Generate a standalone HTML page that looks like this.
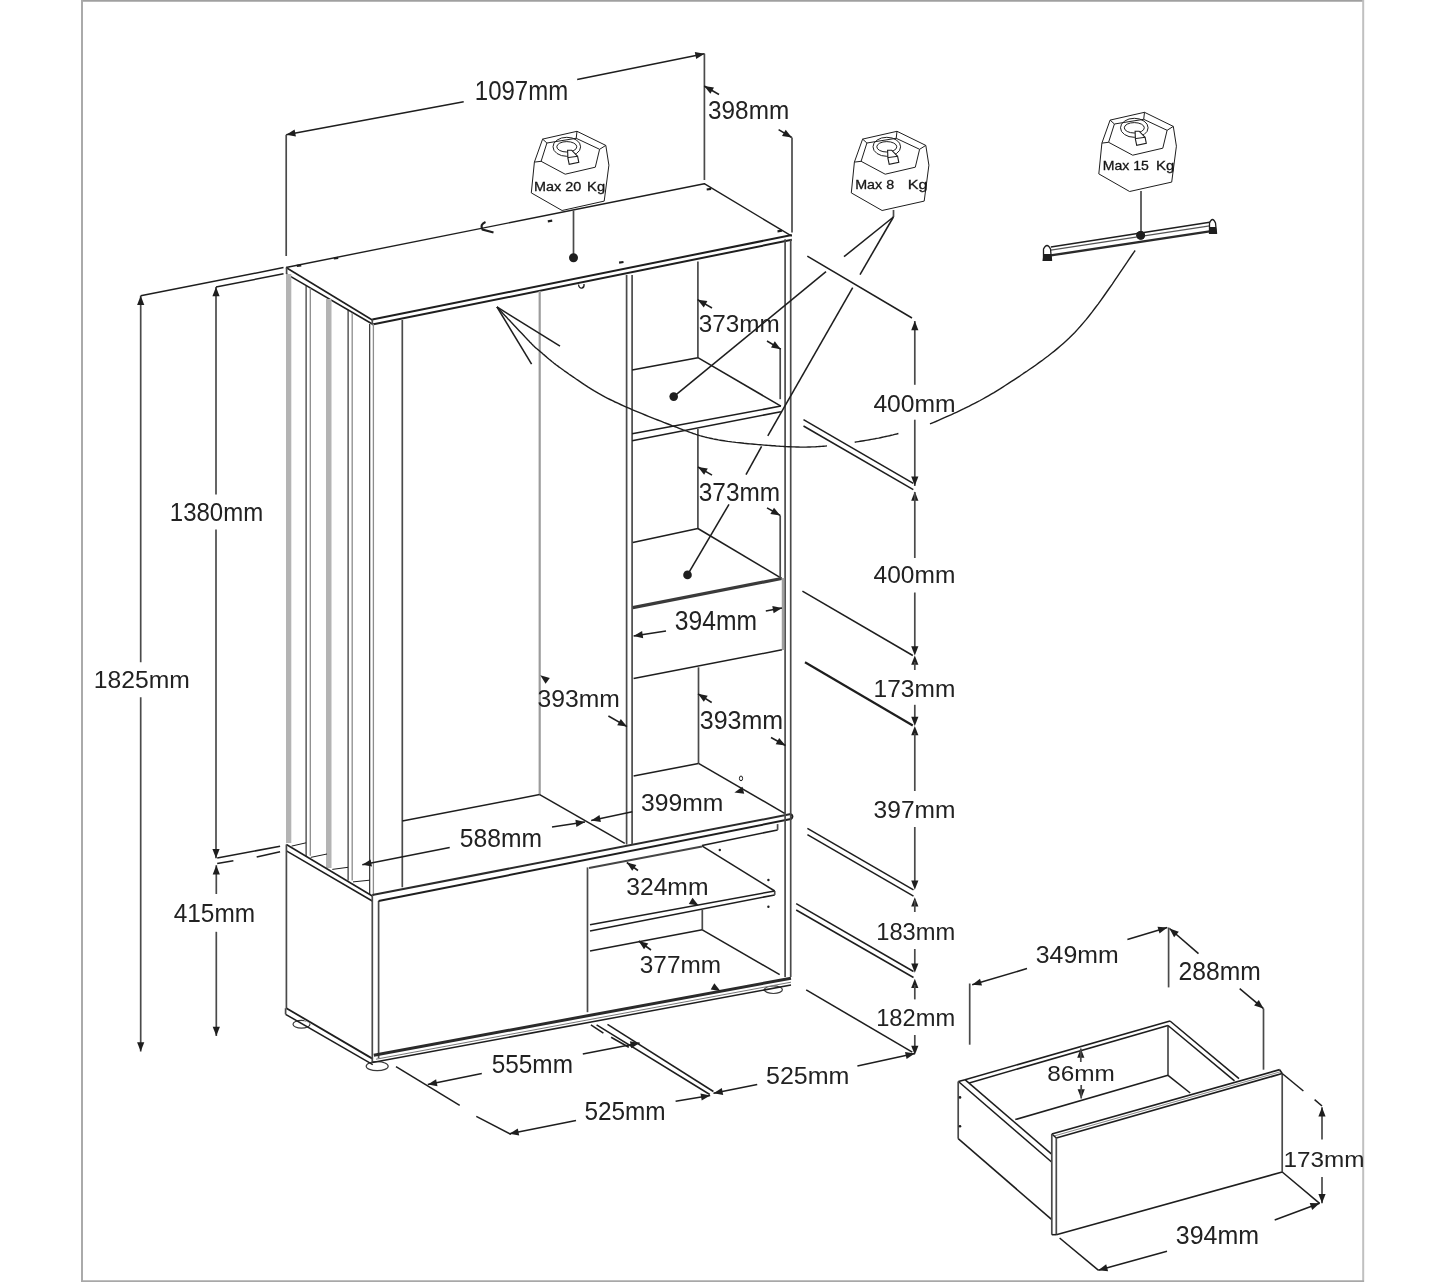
<!DOCTYPE html>
<html><head><meta charset="utf-8"><style>
html,body{margin:0;padding:0;background:#fff;}
svg{display:block;font-family:"Liberation Sans", sans-serif;}
body{filter:grayscale(1);}
</style></head><body>
<svg width="1445" height="1282" viewBox="0 0 1445 1282">
<rect width="1445" height="1282" fill="#fff"/>
<line x1="81" y1="0.9" x2="1364" y2="0.9" stroke="#a0a0a0" stroke-width="1.9"/>
<line x1="82" y1="0" x2="82" y2="1282" stroke="#aaaaaa" stroke-width="2"/>
<line x1="1363.2" y1="0" x2="1363.2" y2="1282" stroke="#c0c0c0" stroke-width="2"/>
<line x1="81" y1="1281.2" x2="1364" y2="1281.2" stroke="#a8a8a8" stroke-width="1.8"/>
<line x1="286.2" y1="134.8" x2="463.7" y2="101.8" stroke="#1e1e1e" stroke-width="1.55" />
<line x1="577.2" y1="79.4" x2="704.5" y2="53.7" stroke="#1e1e1e" stroke-width="1.55" />
<path d="M286.2,134.8 L294.6,129.6 L295.9,136.6Z" fill="#1e1e1e"/>
<path d="M704.5,53.7 L696.2,59.0 L694.8,52.0Z" fill="#1e1e1e"/>
<text transform="translate(474.80,99.73) scale(0.897,1)" font-size="26.76" fill="#222" font-weight="normal" >1097mm</text>
<line x1="286.2" y1="134.8" x2="286.2" y2="256.0" stroke="#4a4a4a" stroke-width="1.7" />
<line x1="704.4" y1="53.7" x2="704.4" y2="180.0" stroke="#4a4a4a" stroke-width="1.7" />
<line x1="704.2" y1="86.0" x2="719.0" y2="94.5" stroke="#1e1e1e" stroke-width="1.55" />
<line x1="778.6" y1="129.7" x2="791.8" y2="137.5" stroke="#1e1e1e" stroke-width="1.55" />
<path d="M704.2,86.0 L714.0,87.5 L710.4,93.7Z" fill="#1e1e1e"/>
<path d="M791.8,137.5 L782.0,135.9 L785.7,129.7Z" fill="#1e1e1e"/>
<text transform="translate(708.10,119.45) scale(0.975,1)" font-size="24.93" fill="#222" font-weight="normal" >398mm</text>
<line x1="792.0" y1="137.5" x2="792.0" y2="232.4" stroke="#4a4a4a" stroke-width="1.7" />
<line x1="140.7" y1="295.8" x2="140.7" y2="662.3" stroke="#4a4a4a" stroke-width="1.7" />
<line x1="140.7" y1="697.3" x2="140.7" y2="1051.4" stroke="#4a4a4a" stroke-width="1.7" />
<path d="M140.7,295.8 L144.3,305.0 L137.1,305.0Z" fill="#1e1e1e"/>
<path d="M140.7,1051.4 L137.1,1042.2 L144.3,1042.2Z" fill="#1e1e1e"/>
<line x1="140.7" y1="295.8" x2="283.5" y2="267.6" stroke="#1e1e1e" stroke-width="1.55" />
<text transform="translate(93.80,688.35) scale(0.996,1)" font-size="24.79" fill="#222" font-weight="normal" >1825mm</text>
<line x1="216.0" y1="287.0" x2="216.0" y2="494.6" stroke="#4a4a4a" stroke-width="1.7" />
<line x1="216.0" y1="529.6" x2="216.0" y2="858.3" stroke="#4a4a4a" stroke-width="1.7" />
<path d="M216.0,287.0 L219.6,296.2 L212.4,296.2Z" fill="#1e1e1e"/>
<path d="M216.0,858.3 L212.4,849.1 L219.6,849.1Z" fill="#1e1e1e"/>
<line x1="216.0" y1="287.0" x2="283.5" y2="273.8" stroke="#1e1e1e" stroke-width="1.55" />
<text transform="translate(169.80,520.75) scale(0.947,1)" font-size="25.35" fill="#222" font-weight="normal" >1380mm</text>
<line x1="216.3" y1="865.2" x2="216.3" y2="894.0" stroke="#4a4a4a" stroke-width="1.7" />
<line x1="216.3" y1="931.8" x2="216.3" y2="1036.0" stroke="#4a4a4a" stroke-width="1.7" />
<path d="M216.3,865.2 L219.9,874.4 L212.7,874.4Z" fill="#1e1e1e"/>
<path d="M216.3,1036.0 L212.7,1026.8 L219.9,1026.8Z" fill="#1e1e1e"/>
<text transform="translate(173.70,921.64) scale(0.950,1)" font-size="25.71" fill="#222" font-weight="normal" >415mm</text>
<line x1="217.2" y1="858.0" x2="280.1" y2="846.3" stroke="#1e1e1e" stroke-width="1.55" />
<line x1="217.2" y1="863.4" x2="233.4" y2="860.7" stroke="#1e1e1e" stroke-width="1.55" />
<line x1="256.7" y1="857.1" x2="280.1" y2="851.7" stroke="#1e1e1e" stroke-width="1.55" />
<line x1="914.8" y1="321.0" x2="914.8" y2="384.8" stroke="#4a4a4a" stroke-width="1.7" />
<line x1="914.8" y1="419.7" x2="914.8" y2="486.0" stroke="#4a4a4a" stroke-width="1.7" />
<path d="M914.8,321.0 L918.4,330.2 L911.2,330.2Z" fill="#1e1e1e"/>
<path d="M914.8,485.8 L911.2,476.6 L918.4,476.6Z" fill="#1e1e1e"/>
<path d="M914.8,491.6 L918.4,500.8 L911.2,500.8Z" fill="#1e1e1e"/>
<text transform="translate(873.40,411.95) scale(1.007,1)" font-size="24.51" fill="#222" font-weight="normal" >400mm</text>
<line x1="807.3" y1="256.2" x2="912.0" y2="318.0" stroke="#1e1e1e" stroke-width="1.55" />
<line x1="803.5" y1="419.7" x2="913.3" y2="483.4" stroke="#1e1e1e" stroke-width="1.55" />
<line x1="803.5" y1="426.0" x2="913.3" y2="489.6" stroke="#1e1e1e" stroke-width="1.55" />
<line x1="914.8" y1="492.0" x2="914.8" y2="558.0" stroke="#4a4a4a" stroke-width="1.7" />
<line x1="914.8" y1="592.5" x2="914.8" y2="650.0" stroke="#4a4a4a" stroke-width="1.7" />
<path d="M914.8,655.5 L911.2,646.3 L918.4,646.3Z" fill="#1e1e1e"/>
<path d="M914.8,655.5 L918.4,664.7 L911.2,664.7Z" fill="#1e1e1e"/>
<text transform="translate(873.60,583.45) scale(0.995,1)" font-size="24.65" fill="#222" font-weight="normal" >400mm</text>
<line x1="802.4" y1="591.2" x2="912.8" y2="655.5" stroke="#1e1e1e" stroke-width="1.55" />
<line x1="914.8" y1="662.0" x2="914.8" y2="670.0" stroke="#4a4a4a" stroke-width="1.7" />
<line x1="914.8" y1="704.8" x2="914.8" y2="720.0" stroke="#4a4a4a" stroke-width="1.7" />
<path d="M914.8,726.0 L911.2,716.8 L918.4,716.8Z" fill="#1e1e1e"/>
<path d="M914.8,726.0 L918.4,735.2 L911.2,735.2Z" fill="#1e1e1e"/>
<text transform="translate(873.60,696.56) scale(1.024,1)" font-size="23.94" fill="#222" font-weight="normal" >173mm</text>
<line x1="805.0" y1="662.3" x2="912.8" y2="725.5" stroke="#1e1e1e" stroke-width="2.2" />
<line x1="914.8" y1="733.0" x2="914.8" y2="791.0" stroke="#4a4a4a" stroke-width="1.7" />
<line x1="914.8" y1="827.0" x2="914.8" y2="885.0" stroke="#4a4a4a" stroke-width="1.7" />
<path d="M914.8,889.8 L911.2,880.6 L918.4,880.6Z" fill="#1e1e1e"/>
<path d="M914.8,897.2 L918.4,906.4 L911.2,906.4Z" fill="#1e1e1e"/>
<text transform="translate(873.60,818.15) scale(1.001,1)" font-size="24.51" fill="#222" font-weight="normal" >397mm</text>
<line x1="807.4" y1="828.4" x2="913.5" y2="889.8" stroke="#1e1e1e" stroke-width="1.55" />
<line x1="807.4" y1="834.6" x2="913.5" y2="896.2" stroke="#1e1e1e" stroke-width="1.55" />
<line x1="914.8" y1="900.0" x2="914.8" y2="912.0" stroke="#4a4a4a" stroke-width="1.7" />
<line x1="914.8" y1="949.0" x2="914.8" y2="968.0" stroke="#4a4a4a" stroke-width="1.7" />
<path d="M914.8,972.8 L911.2,963.6 L918.4,963.6Z" fill="#1e1e1e"/>
<path d="M914.8,978.7 L918.4,987.9 L911.2,987.9Z" fill="#1e1e1e"/>
<text transform="translate(876.20,939.75) scale(0.956,1)" font-size="24.79" fill="#222" font-weight="normal" >183mm</text>
<line x1="796.2" y1="903.7" x2="913.5" y2="971.5" stroke="#1e1e1e" stroke-width="1.55" />
<line x1="796.2" y1="910.0" x2="913.5" y2="977.5" stroke="#1e1e1e" stroke-width="1.55" />
<line x1="914.8" y1="985.0" x2="914.8" y2="999.4" stroke="#4a4a4a" stroke-width="1.7" />
<line x1="914.8" y1="1035.0" x2="914.8" y2="1050.0" stroke="#4a4a4a" stroke-width="1.7" />
<path d="M914.8,1055.0 L911.2,1045.8 L918.4,1045.8Z" fill="#1e1e1e"/>
<text transform="translate(876.20,1025.75) scale(0.961,1)" font-size="24.65" fill="#222" font-weight="normal" >182mm</text>
<line x1="806.2" y1="989.8" x2="912.3" y2="1052.2" stroke="#1e1e1e" stroke-width="1.55" />
<line x1="857.4" y1="1066.0" x2="914.8" y2="1053.4" stroke="#1e1e1e" stroke-width="1.55" />
<path d="M914.8,1053.4 L906.6,1058.9 L905.0,1051.9Z" fill="#1e1e1e"/>
<line x1="757.2" y1="1084.6" x2="713.5" y2="1093.3" stroke="#1e1e1e" stroke-width="1.55" />
<path d="M713.5,1093.3 L721.8,1088.0 L723.2,1095.0Z" fill="#1e1e1e"/>
<text transform="translate(766.00,1084.35) scale(1.010,1)" font-size="24.79" fill="#222" font-weight="normal" >525mm</text>
<line x1="675.6" y1="1101.2" x2="710.2" y2="1095.6" stroke="#1e1e1e" stroke-width="1.55" />
<path d="M710.2,1095.6 L701.7,1100.6 L700.5,1093.5Z" fill="#1e1e1e"/>
<line x1="576.0" y1="1120.6" x2="509.5" y2="1133.8" stroke="#1e1e1e" stroke-width="1.55" />
<path d="M509.5,1133.8 L517.8,1128.5 L519.2,1135.5Z" fill="#1e1e1e"/>
<text transform="translate(584.40,1120.35) scale(0.962,1)" font-size="25.35" fill="#222" font-weight="normal" >525mm</text>
<line x1="396.0" y1="1066.6" x2="459.7" y2="1105.3" stroke="#1e1e1e" stroke-width="1.55" />
<line x1="476.3" y1="1116.4" x2="510.9" y2="1134.4" stroke="#1e1e1e" stroke-width="1.55" />
<line x1="596.6" y1="1024.9" x2="709.8" y2="1094.5" stroke="#1e1e1e" stroke-width="1.55" />
<line x1="607.5" y1="1024.3" x2="713.4" y2="1091.5" stroke="#1e1e1e" stroke-width="1.55" />
<line x1="590.9" y1="1024.9" x2="603.4" y2="1033.2" stroke="#1e1e1e" stroke-width="1.55" />
<line x1="611.1" y1="1037.3" x2="628.8" y2="1047.2" stroke="#1e1e1e" stroke-width="1.55" />
<line x1="427.8" y1="1084.6" x2="481.8" y2="1073.5" stroke="#1e1e1e" stroke-width="1.55" />
<path d="M427.8,1084.6 L436.1,1079.2 L437.5,1086.3Z" fill="#1e1e1e"/>
<line x1="582.8" y1="1054.1" x2="639.6" y2="1043.0" stroke="#1e1e1e" stroke-width="1.55" />
<path d="M639.6,1043.0 L631.3,1048.3 L629.9,1041.2Z" fill="#1e1e1e"/>
<text transform="translate(491.70,1073.24) scale(0.948,1)" font-size="25.71" fill="#222" font-weight="normal" >555mm</text>
<path d="M286.0,267.5 L704.3,183.7 L791.8,236.2" stroke="#1e1e1e" stroke-width="1.4" fill="none" stroke-linejoin="round"/>
<line x1="286.0" y1="267.5" x2="372.3" y2="320.0" stroke="#1e1e1e" stroke-width="1.55" />
<line x1="372.3" y1="319.6" x2="791.8" y2="235.0" stroke="#1e1e1e" stroke-width="2.0" />
<line x1="372.3" y1="324.6" x2="791.8" y2="239.8" stroke="#1e1e1e" stroke-width="2.0" />
<line x1="286.6" y1="274.1" x2="372.3" y2="324.0" stroke="#1e1e1e" stroke-width="1.55" />
<line x1="372.3" y1="320.0" x2="372.3" y2="324.0" stroke="#4a4a4a" stroke-width="1.7" />
<rect x="286" y="274" width="5.3" height="569" fill="#b4b4b4"/>
<rect x="326" y="299" width="5.5" height="569" fill="#b4b4b4"/>
<line x1="306.1" y1="285.7" x2="306.1" y2="856.5" stroke="#1e1e1e" stroke-width="1.1" />
<line x1="310.3" y1="288.2" x2="310.3" y2="855.7" stroke="#8c8c8c" stroke-width="1.3" />
<line x1="348.1" y1="309.8" x2="348.1" y2="880.6" stroke="#1e1e1e" stroke-width="1.1" />
<line x1="352.2" y1="313.0" x2="352.2" y2="880.6" stroke="#8c8c8c" stroke-width="1.3" />
<line x1="369.7" y1="324.0" x2="369.7" y2="894.0" stroke="#1e1e1e" stroke-width="1.1" />
<line x1="373.4" y1="324.0" x2="373.4" y2="896.0" stroke="#8c8c8c" stroke-width="1.3" />
<line x1="291.6" y1="846.1" x2="306.1" y2="842.8" stroke="#1e1e1e" stroke-width="1.0" />
<line x1="310.7" y1="857.4" x2="327.0" y2="854.0" stroke="#1e1e1e" stroke-width="1.0" />
<line x1="332.3" y1="869.4" x2="348.0" y2="867.3" stroke="#1e1e1e" stroke-width="1.0" />
<line x1="353.0" y1="881.9" x2="369.7" y2="880.2" stroke="#1e1e1e" stroke-width="1.0" />
<line x1="286.6" y1="267.5" x2="286.6" y2="274.1" stroke="#4a4a4a" stroke-width="1.7" />
<ellipse cx="301.5" cy="1024.2" rx="8.5" ry="3.9" fill="#fff" stroke="#3a3a3a" stroke-width="1.2"/>
<ellipse cx="377.2" cy="1066.2" rx="11" ry="4.5" fill="#fff" stroke="#3a3a3a" stroke-width="1.2"/>
<ellipse cx="773.4" cy="989.7" rx="9" ry="3.8" fill="#fff" stroke="#3a3a3a" stroke-width="1.2"/>
<path d="M286.4,1010 L372.3,1060 L791,982 L791,960 L372.3,1040 L286.4,990Z" fill="#fff"/>
<line x1="286.4" y1="844.5" x2="372.3" y2="896.0" stroke="#1e1e1e" stroke-width="1.55" />
<line x1="286.4" y1="850.8" x2="372.3" y2="901.0" stroke="#1e1e1e" stroke-width="1.55" />
<line x1="286.4" y1="844.5" x2="286.4" y2="1008.2" stroke="#4a4a4a" stroke-width="1.7" />
<line x1="286.4" y1="1008.2" x2="372.8" y2="1058.9" stroke="#1e1e1e" stroke-width="1.8" />
<line x1="285.6" y1="1014.3" x2="372.8" y2="1064.6" stroke="#1e1e1e" stroke-width="1.55" />
<line x1="285.6" y1="1008.2" x2="285.6" y2="1014.3" stroke="#4a4a4a" stroke-width="1.7" />
<line x1="372.3" y1="896.0" x2="372.3" y2="1062.5" stroke="#4a4a4a" stroke-width="1.7" />
<line x1="378.6" y1="901.0" x2="378.6" y2="1058.3" stroke="#4a4a4a" stroke-width="1.7" />
<line x1="372.3" y1="895.0" x2="790.9" y2="814.1" stroke="#2a2a2a" stroke-width="2.0" />
<line x1="378.6" y1="901.0" x2="790.9" y2="819.1" stroke="#1e1e1e" stroke-width="2.0" />
<path d="M790.9,814.1 Q794,816.6 790.9,819.1" stroke="#1c1c1c" stroke-width="2" fill="none"/>
<line x1="373.8" y1="1055.2" x2="791.0" y2="978.2" stroke="#2a2a2a" stroke-width="3.0" />
<line x1="376.0" y1="1059.2" x2="791.0" y2="982.2" stroke="#777" stroke-width="1.0" />
<line x1="372.3" y1="1062.5" x2="791.0" y2="985.0" stroke="#1e1e1e" stroke-width="1.5" />
<line x1="402.3" y1="320.0" x2="402.3" y2="887.3" stroke="#4a4a4a" stroke-width="1.7" />
<line x1="539.7" y1="291.0" x2="539.7" y2="794.6" stroke="#9c9c9c" stroke-width="2.2" />
<line x1="402.3" y1="821.0" x2="539.7" y2="794.6" stroke="#1e1e1e" stroke-width="1.55" />
<line x1="539.7" y1="794.6" x2="624.8" y2="843.3" stroke="#1e1e1e" stroke-width="1.55" />
<line x1="626.6" y1="275.0" x2="626.6" y2="844.5" stroke="#4a4a4a" stroke-width="1.7" />
<line x1="632.1" y1="275.0" x2="632.1" y2="844.5" stroke="#4a4a4a" stroke-width="1.7" />
<line x1="785.1" y1="239.3" x2="785.1" y2="977.0" stroke="#4a4a4a" stroke-width="1.7" />
<line x1="790.7" y1="239.3" x2="790.7" y2="977.0" stroke="#4a4a4a" stroke-width="1.7" />
<line x1="697.9" y1="261.4" x2="697.9" y2="357.7" stroke="#4a4a4a" stroke-width="1.7" />
<line x1="697.9" y1="429.0" x2="697.9" y2="528.5" stroke="#4a4a4a" stroke-width="1.7" />
<line x1="698.5" y1="667.3" x2="698.5" y2="763.4" stroke="#4a4a4a" stroke-width="1.7" />
<line x1="632.1" y1="370.1" x2="697.9" y2="357.7" stroke="#1e1e1e" stroke-width="1.55" />
<line x1="697.9" y1="357.7" x2="780.9" y2="406.1" stroke="#1e1e1e" stroke-width="1.55" />
<line x1="632.1" y1="433.8" x2="780.9" y2="406.1" stroke="#1e1e1e" stroke-width="1.55" />
<line x1="632.1" y1="440.7" x2="780.9" y2="411.7" stroke="#1e1e1e" stroke-width="1.55" />
<line x1="780.2" y1="348.0" x2="780.2" y2="399.2" stroke="#4a4a4a" stroke-width="1.7" />
<line x1="632.8" y1="542.4" x2="697.9" y2="528.5" stroke="#1e1e1e" stroke-width="1.55" />
<line x1="697.9" y1="528.5" x2="781.6" y2="578.3" stroke="#1e1e1e" stroke-width="1.55" />
<line x1="632.8" y1="607.6" x2="781.6" y2="578.5" stroke="#3a3a3a" stroke-width="3.2" />
<line x1="780.2" y1="515.4" x2="780.2" y2="578.3" stroke="#4a4a4a" stroke-width="1.7" />
<line x1="633.6" y1="678.5" x2="782.0" y2="649.8" stroke="#1e1e1e" stroke-width="1.55" />
<line x1="783.0" y1="578.0" x2="783.0" y2="650.0" stroke="#a0a0a0" stroke-width="2.5" />
<line x1="633.6" y1="776.0" x2="698.5" y2="763.4" stroke="#1e1e1e" stroke-width="1.55" />
<line x1="698.5" y1="763.4" x2="784.6" y2="813.3" stroke="#1e1e1e" stroke-width="1.55" />
<ellipse cx="741" cy="778.4" rx="1.6" ry="2.4" fill="none" stroke="#1e1e1e" stroke-width="1"/>
<line x1="589.0" y1="868.1" x2="702.0" y2="846.5" stroke="#444" stroke-width="2.0" />
<line x1="702.0" y1="845.5" x2="777.6" y2="829.9" stroke="#1e1e1e" stroke-width="1.55" />
<line x1="777.6" y1="824.1" x2="777.6" y2="829.9" stroke="#4a4a4a" stroke-width="1.7" />
<line x1="587.5" y1="867.4" x2="587.5" y2="1012.2" stroke="#4a4a4a" stroke-width="1.7" />
<line x1="590.0" y1="924.8" x2="774.7" y2="891.0" stroke="#1e1e1e" stroke-width="1.55" />
<line x1="590.0" y1="931.0" x2="774.7" y2="894.9" stroke="#1e1e1e" stroke-width="1.55" />
<line x1="774.7" y1="891.0" x2="774.7" y2="894.9" stroke="#4a4a4a" stroke-width="1.7" />
<line x1="702.3" y1="846.2" x2="774.7" y2="891.0" stroke="#1e1e1e" stroke-width="1.55" />
<line x1="702.3" y1="909.8" x2="702.3" y2="929.8" stroke="#4a4a4a" stroke-width="1.7" />
<line x1="590.0" y1="951.0" x2="702.3" y2="929.8" stroke="#1e1e1e" stroke-width="1.55" />
<line x1="702.3" y1="929.8" x2="779.7" y2="974.7" stroke="#1e1e1e" stroke-width="1.55" />
<circle cx="719.8" cy="850" r="1.2" fill="#1e1e1e"/>
<circle cx="768.4" cy="880" r="1.2" fill="#1e1e1e"/>
<circle cx="768.4" cy="906.8" r="1.2" fill="#1e1e1e"/>
<path d="M697.6,299.7 L707.4,301.1 L703.8,307.4Z" fill="#1e1e1e"/>
<line x1="697.6" y1="299.7" x2="712.0" y2="308.0" stroke="#1e1e1e" stroke-width="1.55" />
<path d="M780.7,349.2 L771.0,347.4 L774.8,341.3Z" fill="#1e1e1e"/>
<line x1="780.7" y1="349.2" x2="767.0" y2="341.0" stroke="#1e1e1e" stroke-width="1.55" />
<text transform="translate(698.80,332.15) scale(0.990,1)" font-size="24.51" fill="#222" font-weight="normal" >373mm</text>
<path d="M698.0,467.0 L707.8,468.5 L704.1,474.7Z" fill="#1e1e1e"/>
<line x1="698.0" y1="467.0" x2="712.0" y2="475.2" stroke="#1e1e1e" stroke-width="1.55" />
<path d="M780.2,515.4 L770.4,514.0 L774.0,507.7Z" fill="#1e1e1e"/>
<line x1="780.2" y1="515.4" x2="767.0" y2="507.8" stroke="#1e1e1e" stroke-width="1.55" />
<text transform="translate(698.80,500.54) scale(0.926,1)" font-size="26.34" fill="#222" font-weight="normal" >373mm</text>
<line x1="633.6" y1="636.0" x2="666.0" y2="631.0" stroke="#1e1e1e" stroke-width="1.55" />
<path d="M633.6,636.0 L642.1,631.0 L643.2,638.2Z" fill="#1e1e1e"/>
<line x1="765.8" y1="611.0" x2="782.0" y2="608.0" stroke="#1e1e1e" stroke-width="1.55" />
<path d="M782.0,608.0 L773.6,613.2 L772.3,606.1Z" fill="#1e1e1e"/>
<text transform="translate(674.80,629.73) scale(0.922,1)" font-size="26.76" fill="#222" font-weight="normal" >394mm</text>
<path d="M540.3,675.3 L549.8,677.9 L545.6,683.7Z" fill="#1e1e1e"/>
<text transform="translate(537.50,706.95) scale(1.007,1)" font-size="24.51" fill="#222" font-weight="normal" >393mm</text>
<line x1="608.4" y1="716.0" x2="627.0" y2="726.6" stroke="#1e1e1e" stroke-width="1.55" />
<path d="M627.0,726.6 L617.2,725.2 L620.8,718.9Z" fill="#1e1e1e"/>
<path d="M698.0,693.8 L707.7,695.7 L703.8,701.8Z" fill="#1e1e1e"/>
<line x1="698.0" y1="693.8" x2="711.7" y2="702.5" stroke="#1e1e1e" stroke-width="1.55" />
<text transform="translate(699.80,729.45) scale(1.003,1)" font-size="24.93" fill="#222" font-weight="normal" >393mm</text>
<line x1="771.0" y1="737.5" x2="785.5" y2="745.5" stroke="#1e1e1e" stroke-width="1.55" />
<path d="M785.5,745.5 L775.7,744.2 L779.2,737.9Z" fill="#1e1e1e"/>
<line x1="591.2" y1="820.4" x2="632.3" y2="811.7" stroke="#1e1e1e" stroke-width="1.55" />
<path d="M591.2,820.4 L599.5,815.0 L600.9,822.0Z" fill="#1e1e1e"/>
<path d="M734.4,792.4 L742.5,786.7 L744.2,793.7Z" fill="#1e1e1e"/>
<text transform="translate(641.10,810.55) scale(1.007,1)" font-size="24.51" fill="#222" font-weight="normal" >399mm</text>
<line x1="362.3" y1="864.8" x2="449.7" y2="847.4" stroke="#1e1e1e" stroke-width="1.55" />
<path d="M362.3,864.8 L370.6,859.5 L372.0,866.5Z" fill="#1e1e1e"/>
<line x1="552.0" y1="827.0" x2="585.0" y2="822.0" stroke="#1e1e1e" stroke-width="1.55" />
<path d="M585.0,822.0 L576.4,826.9 L575.4,819.8Z" fill="#1e1e1e"/>
<text transform="translate(459.80,847.14) scale(0.931,1)" font-size="26.48" fill="#222" font-weight="normal" >588mm</text>
<path d="M626.8,862.5 L636.4,864.9 L632.2,870.8Z" fill="#1e1e1e"/>
<line x1="626.8" y1="862.5" x2="638.0" y2="870.5" stroke="#1e1e1e" stroke-width="1.55" />
<text transform="translate(626.20,894.65) scale(1.001,1)" font-size="24.65" fill="#222" font-weight="normal" >324mm</text>
<path d="M698.6,905.5 L688.8,904.0 L692.5,897.8Z" fill="#1e1e1e"/>
<path d="M638.7,941.0 L648.3,943.5 L644.0,949.3Z" fill="#1e1e1e"/>
<line x1="638.7" y1="941.0" x2="651.0" y2="950.0" stroke="#1e1e1e" stroke-width="1.55" />
<text transform="translate(639.80,973.25) scale(0.988,1)" font-size="24.65" fill="#222" font-weight="normal" >377mm</text>
<path d="M720.4,991.0 L710.7,989.4 L714.3,983.2Z" fill="#1e1e1e"/>
<path d="M542.6,139.1 L577.0,131.3 L605.8,145.4 L608.9,165.2 L604.2,201.1 L562.1,210.5 L531.3,192.9 L534.4,162.1Z" stroke="#1e1e1e" stroke-width="1.0" fill="none" stroke-linejoin="round"/>
<path d="M546.9,143.0 L576.2,138.3 L599.6,149.3 L595.3,167.2 L565.2,174.2 L541.1,161.3Z" stroke="#1e1e1e" stroke-width="1.0" fill="none" stroke-linejoin="round"/>
<line x1="542.6" y1="139.1" x2="546.9" y2="143.0" stroke="#1e1e1e" stroke-width="1.0" />
<line x1="577.0" y1="131.3" x2="576.2" y2="138.3" stroke="#1e1e1e" stroke-width="1.0" />
<line x1="605.8" y1="145.4" x2="599.6" y2="149.3" stroke="#1e1e1e" stroke-width="1.0" />
<line x1="534.4" y1="162.1" x2="541.1" y2="161.3" stroke="#1e1e1e" stroke-width="1.0" />
<ellipse cx="566.8" cy="146.8" rx="13.8" ry="9.5" fill="none" stroke="#1e1e1e" stroke-width="1"/>
<ellipse cx="566.8" cy="146.8" rx="10" ry="5.2" fill="none" stroke="#1e1e1e" stroke-width="1"/>
<path d="M567.6,150.2 L571.6,150.2 L577.6,156.3 L578.8,162.3 L569.2,164.3 L567.9,158.2Z" fill="#fff" stroke="#1e1e1e" stroke-width="1.1"/>
<line x1="567.9" y1="157.6" x2="577.6" y2="156.3" stroke="#1e1e1e" stroke-width="1.0" />
<text transform="translate(534.00,190.87) scale(1.135,1)" font-size="12.68" fill="#161616" font-weight="normal" stroke="#161616" stroke-width="0.3">Max 20</text>
<text transform="translate(587.10,190.87) scale(1.143,1)" font-size="12.86" fill="#161616" font-weight="normal" stroke="#161616" stroke-width="0.3">Kg</text>
<path d="M862.6,139.1 L897.0,131.3 L925.8,145.4 L928.9,165.2 L924.2,201.1 L882.1,210.5 L851.3,192.9 L854.4,162.1Z" stroke="#1e1e1e" stroke-width="1.0" fill="none" stroke-linejoin="round"/>
<path d="M866.9,143.0 L896.2,138.3 L919.6,149.3 L915.3,167.2 L885.2,174.2 L861.1,161.3Z" stroke="#1e1e1e" stroke-width="1.0" fill="none" stroke-linejoin="round"/>
<line x1="862.6" y1="139.1" x2="866.9" y2="143.0" stroke="#1e1e1e" stroke-width="1.0" />
<line x1="897.0" y1="131.3" x2="896.2" y2="138.3" stroke="#1e1e1e" stroke-width="1.0" />
<line x1="925.8" y1="145.4" x2="919.6" y2="149.3" stroke="#1e1e1e" stroke-width="1.0" />
<line x1="854.4" y1="162.1" x2="861.1" y2="161.3" stroke="#1e1e1e" stroke-width="1.0" />
<ellipse cx="886.8" cy="146.8" rx="13.8" ry="9.5" fill="none" stroke="#1e1e1e" stroke-width="1"/>
<ellipse cx="886.8" cy="146.8" rx="10" ry="5.2" fill="none" stroke="#1e1e1e" stroke-width="1"/>
<path d="M887.6,150.2 L891.6,150.2 L897.6,156.3 L898.8,162.3 L889.2,164.3 L887.9,158.2Z" fill="#fff" stroke="#1e1e1e" stroke-width="1.1"/>
<line x1="887.9" y1="157.6" x2="897.6" y2="156.3" stroke="#1e1e1e" stroke-width="1.0" />
<text transform="translate(855.20,189.27) scale(1.081,1)" font-size="13.24" fill="#161616" font-weight="normal" stroke="#161616" stroke-width="0.3">Max 8</text>
<text transform="translate(907.80,189.27) scale(1.204,1)" font-size="13.43" fill="#161616" font-weight="normal" stroke="#161616" stroke-width="0.3">Kg</text>
<path d="M1110.1,120.1 L1144.5,112.3 L1173.3,126.4 L1176.4,146.2 L1171.7,182.1 L1129.6,191.5 L1098.8,173.9 L1101.9,143.1Z" stroke="#1e1e1e" stroke-width="1.0" fill="none" stroke-linejoin="round"/>
<path d="M1114.4,124.0 L1143.7,119.3 L1167.1,130.3 L1162.8,148.2 L1132.7,155.2 L1108.6,142.3Z" stroke="#1e1e1e" stroke-width="1.0" fill="none" stroke-linejoin="round"/>
<line x1="1110.1" y1="120.1" x2="1114.4" y2="124.0" stroke="#1e1e1e" stroke-width="1.0" />
<line x1="1144.5" y1="112.3" x2="1143.7" y2="119.3" stroke="#1e1e1e" stroke-width="1.0" />
<line x1="1173.3" y1="126.4" x2="1167.1" y2="130.3" stroke="#1e1e1e" stroke-width="1.0" />
<line x1="1101.9" y1="143.1" x2="1108.6" y2="142.3" stroke="#1e1e1e" stroke-width="1.0" />
<ellipse cx="1134.3" cy="127.8" rx="13.8" ry="9.5" fill="none" stroke="#1e1e1e" stroke-width="1"/>
<ellipse cx="1134.3" cy="127.8" rx="10" ry="5.2" fill="none" stroke="#1e1e1e" stroke-width="1"/>
<path d="M1135.1,131.2 L1139.1,131.2 L1145.1,137.3 L1146.3,143.3 L1136.7,145.3 L1135.4,139.2Z" fill="#fff" stroke="#1e1e1e" stroke-width="1.1"/>
<line x1="1135.4" y1="138.6" x2="1145.1" y2="137.3" stroke="#1e1e1e" stroke-width="1.0" />
<text transform="translate(1102.80,170.16) scale(1.036,1)" font-size="13.57" fill="#161616" font-weight="normal" stroke="#161616" stroke-width="0.3">Max 15</text>
<text transform="translate(1156.10,170.16) scale(1.101,1)" font-size="13.57" fill="#161616" font-weight="normal" stroke="#161616" stroke-width="0.3">Kg</text>
<line x1="573.5" y1="210.5" x2="573.5" y2="257.5" stroke="#4a4a4a" stroke-width="1.7" />
<circle cx="573.5" cy="257.8" r="4.5" fill="#1e1e1e"/>
<line x1="893.5" y1="210.0" x2="893.5" y2="217.0" stroke="#4a4a4a" stroke-width="1.7" />
<line x1="893.4" y1="217.0" x2="844.0" y2="256.7" stroke="#1e1e1e" stroke-width="1.55" />
<line x1="826.0" y1="271.7" x2="673.7" y2="396.6" stroke="#1e1e1e" stroke-width="1.55" />
<line x1="893.4" y1="217.0" x2="860.0" y2="274.6" stroke="#1e1e1e" stroke-width="1.55" />
<line x1="852.7" y1="287.7" x2="767.8" y2="435.9" stroke="#1e1e1e" stroke-width="1.55" />
<line x1="761.6" y1="446.3" x2="746.0" y2="474.6" stroke="#1e1e1e" stroke-width="1.55" />
<line x1="729.0" y1="504.3" x2="687.5" y2="574.9" stroke="#1e1e1e" stroke-width="1.55" />
<circle cx="673.7" cy="396.6" r="4.3" fill="#1e1e1e"/>
<circle cx="687.5" cy="574.9" r="4.3" fill="#1e1e1e"/>
<line x1="1141.0" y1="191.0" x2="1141.0" y2="234.6" stroke="#4a4a4a" stroke-width="1.7" />
<circle cx="1140.7" cy="235.3" r="4.3" fill="#1e1e1e"/>
<line x1="1050.8" y1="247.0" x2="1211.3" y2="222.1" stroke="#1e1e1e" stroke-width="1.5" />
<line x1="1050.8" y1="250.2" x2="1211.3" y2="225.6" stroke="#555" stroke-width="1.2" />
<line x1="1050.8" y1="255.4" x2="1211.3" y2="231.1" stroke="#2a2a2a" stroke-width="2.4" />
<path d="M1043.5,260 L1043.5,249 Q1047,242 1050.5,249 L1051.5,260Z" fill="#fff" stroke="#1e1e1e" stroke-width="1.3"/>
<path d="M1042.5,261 L1043.5,254 L1051,254 L1052,261Z" fill="#1e1e1e"/>
<path d="M1209.5,233 L1209.5,223 Q1212.5,216 1215.5,223 L1216.5,233Z" fill="#fff" stroke="#1e1e1e" stroke-width="1.3"/>
<path d="M1209,234 L1209.5,227 L1216,227 L1217,234Z" fill="#1e1e1e"/>
<circle cx="1140.7" cy="235.3" r="4.4" fill="#1e1e1e"/>
<path d="M1135.2,250.5 L1133.8,252.4 L1132.3,254.5 L1130.6,257.0 L1128.8,259.7 L1126.8,262.7 L1124.6,265.8 L1122.4,269.2 L1120.0,272.7 L1117.5,276.4 L1114.9,280.2 L1112.3,284.1 L1109.5,288.0 L1106.7,292.0 L1103.9,296.0 L1101.0,300.1 L1098.1,304.1 L1095.1,308.0 L1092.2,311.9 L1089.2,315.7 L1086.3,319.4 L1083.3,322.9 L1080.4,326.3 L1077.6,329.4 L1074.8,332.4 L1072.0,335.2 L1069.2,338.0 L1066.3,340.7 L1063.3,343.4 L1060.3,346.0 L1057.3,348.6 L1054.3,351.1 L1051.2,353.5 L1048.1,356.0 L1045.0,358.3 L1041.9,360.7 L1038.7,362.9 L1035.6,365.2 L1032.5,367.4 L1029.3,369.5 L1026.2,371.7 L1023.1,373.7 L1020.1,375.8 L1017.0,377.8 L1014.0,379.8 L1011.1,381.7 L1008.1,383.6 L1005.2,385.5 L1002.4,387.3 L999.6,389.1 L996.8,390.8 L994.0,392.6 L991.2,394.2 L988.4,395.8 L985.6,397.4 L982.8,399.0 L980.1,400.5 L977.4,401.9 L974.6,403.3 L971.9,404.7 L969.3,406.1 L966.6,407.4 L964.0,408.7 L961.4,409.9 L958.9,411.1 L956.4,412.3 L953.9,413.4 L951.5,414.6 L949.1,415.6 L946.7,416.7 L944.4,417.7 L942.2,418.7 L940.0,419.7 L937.9,420.6 L935.8,421.5 L933.8,422.3 L931.9,423.1 L930.0,423.9" stroke="#1e1e1e" stroke-width="1.4" fill="none" stroke-linejoin="round"/>
<path d="M898.4,433.5 L896.6,434.0 L894.8,434.4 L893.0,434.9 L891.2,435.3 L889.5,435.7 L887.6,436.1 L885.8,436.5 L884.0,436.9 L882.2,437.3 L880.4,437.7 L878.6,438.1 L876.7,438.4 L874.9,438.8 L873.1,439.1 L871.3,439.4 L869.4,439.8 L867.6,440.1 L865.7,440.4 L863.9,440.7 L862.1,441.0 L860.2,441.3 L858.4,441.6 L856.5,441.9 L854.7,442.2" stroke="#1e1e1e" stroke-width="1.4" fill="none" stroke-linejoin="round"/>
<path d="M827.0,445.9 L825.2,446.1 L823.3,446.2 L821.4,446.4 L819.5,446.5 L817.6,446.6 L815.7,446.8 L813.8,446.9 L811.9,446.9 L810.0,447.0 L808.1,447.0 L806.1,447.1 L804.2,447.1 L802.2,447.1 L800.2,447.1 L798.3,447.0 L796.3,447.0 L794.3,446.9 L792.3,446.9 L790.3,446.8 L788.3,446.7 L786.3,446.6 L784.3,446.5 L782.2,446.4 L780.2,446.3 L778.2,446.1 L776.2,446.0 L774.2,445.8 L772.2,445.7 L770.2,445.5 L768.2,445.4 L766.2,445.2 L764.2,445.1 L762.2,444.9 L760.2,444.7 L758.2,444.6 L756.2,444.4 L754.2,444.2 L752.1,444.0 L750.1,443.9 L748.0,443.7 L746.0,443.5 L743.9,443.3 L741.9,443.0 L739.8,442.8 L737.8,442.6 L735.8,442.4 L733.8,442.1 L731.8,441.9 L729.8,441.6 L727.8,441.4 L725.9,441.1 L724.0,440.8 L722.1,440.5 L720.3,440.2 L718.4,439.9 L716.6,439.5 L714.9,439.2 L713.2,438.9 L711.6,438.5 L710.1,438.2 L708.7,437.9 L707.3,437.6 L705.9,437.3 L704.6,436.9 L703.4,436.6 L702.1,436.3 L700.9,435.9 L699.7,435.6 L698.4,435.2 L697.2,434.8 L695.9,434.4 L694.5,433.9 L693.2,433.5 L691.7,432.9 L690.2,432.4 L688.6,431.8 L687.0,431.2 L685.2,430.6 L683.3,429.9 L681.3,429.1 L679.2,428.3 L676.9,427.4 L674.5,426.5 L672.0,425.6 L669.3,424.5 L666.6,423.5 L663.7,422.4 L660.8,421.2 L657.7,420.0 L654.7,418.8 L651.6,417.6 L648.4,416.3 L645.2,415.0 L642.0,413.7 L638.9,412.4 L635.7,411.1 L632.6,409.8 L629.5,408.4 L626.4,407.1 L623.5,405.8 L620.6,404.5 L617.8,403.2 L615.1,402.0 L612.5,400.7 L610.0,399.5 L607.6,398.3 L605.3,397.1 L603.0,395.8 L600.8,394.6 L598.6,393.4 L596.4,392.1 L594.3,390.9 L592.2,389.6 L590.2,388.3 L588.2,387.1 L586.3,385.8 L584.4,384.6 L582.5,383.3 L580.7,382.1 L578.9,380.9 L577.1,379.7 L575.4,378.5 L573.7,377.3 L572.0,376.2 L570.4,375.1 L568.8,374.0 L567.3,372.9 L565.8,371.8 L564.3,370.8 L562.9,369.8 L561.5,368.8 L560.1,367.8 L558.8,366.9 L557.6,365.9 L556.3,365.0 L555.2,364.1 L554.0,363.2 L552.9,362.3 L551.8,361.5 L550.8,360.6 L549.8,359.8 L548.8,359.0 L547.9,358.2 L547.0,357.4 L546.1,356.6 L545.2,355.9 L544.4,355.1 L543.5,354.4 L542.7,353.7 L542.0,353.0 L541.2,352.4 L540.4,351.7 L539.7,351.1 L539.0,350.5 L538.4,350.0 L537.9,349.6 L537.4,349.2 L537.0,348.8 L536.6,348.5 L536.3,348.3 L536.0,348.0 L535.7,347.8 L535.4,347.6 L535.2,347.3 L534.9,347.1 L534.7,346.9 L534.4,346.6 L534.1,346.3 L533.8,346.0 L533.4,345.7 L533.0,345.2 L532.6,344.8 L532.0,344.2 L531.5,343.6 L530.8,342.9 L530.0,342.2 L529.2,341.3 L528.2,340.3 L527.2,339.2 L526.0,337.9 L524.7,336.6 L523.3,335.1 L521.9,333.6 L520.4,332.0 L518.9,330.4 L517.3,328.7 L515.7,327.0 L514.0,325.2 L512.4,323.5 L510.8,321.8 L509.2,320.0 L507.6,318.4 L506.1,316.7 L504.6,315.2 L503.2,313.7 L501.9,312.2 L500.7,310.9 L499.5,309.7 L498.5,308.6 L497.6,307.7 L496.9,306.9" stroke="#1e1e1e" stroke-width="1.4" fill="none" stroke-linejoin="round"/>
<line x1="496.9" y1="306.9" x2="560.0" y2="346.2" stroke="#1e1e1e" stroke-width="1.55" />
<line x1="496.9" y1="306.9" x2="531.6" y2="364.1" stroke="#1e1e1e" stroke-width="1.55" />
<line x1="547.8" y1="221.3" x2="552.2" y2="220.7" stroke="#1e1e1e" stroke-width="2.2" />
<line x1="619.1" y1="262.6" x2="623.5" y2="262.0" stroke="#1e1e1e" stroke-width="2.2" />
<line x1="706.7" y1="189.5" x2="711.1" y2="188.9" stroke="#1e1e1e" stroke-width="2.2" />
<line x1="777.5" y1="231.3" x2="781.9" y2="230.7" stroke="#1e1e1e" stroke-width="2.2" />
<line x1="296.8" y1="265.9" x2="301.2" y2="265.3" stroke="#1e1e1e" stroke-width="2.2" />
<line x1="333.8" y1="258.5" x2="338.2" y2="257.9" stroke="#1e1e1e" stroke-width="2.2" />
<path d="M485.5,222 Q479.5,224.5 482.5,229.5 L493.5,232.5" stroke="#1e1e1e" stroke-width="2.2" fill="none"/>
<path d="M578.5,284.5 Q579,288.5 582,288 Q584.5,287.5 584,284" stroke="#1e1e1e" stroke-width="1.3" fill="none"/>
<line x1="965.0" y1="1079.7" x2="1170.0" y2="1021.0" stroke="#1e1e1e" stroke-width="1.55" />
<line x1="969.2" y1="1082.9" x2="1168.0" y2="1025.5" stroke="#1e1e1e" stroke-width="1.55" />
<line x1="958.4" y1="1081.5" x2="965.0" y2="1079.7" stroke="#1e1e1e" stroke-width="1.55" />
<line x1="958.4" y1="1081.5" x2="1051.6" y2="1162.0" stroke="#1e1e1e" stroke-width="1.55" />
<line x1="965.0" y1="1079.7" x2="1051.6" y2="1154.1" stroke="#1e1e1e" stroke-width="1.55" />
<line x1="958.2" y1="1081.5" x2="958.2" y2="1138.7" stroke="#4a4a4a" stroke-width="1.7" />
<line x1="958.2" y1="1138.7" x2="1051.8" y2="1219.6" stroke="#1e1e1e" stroke-width="1.55" />
<line x1="1168.0" y1="1025.5" x2="1168.0" y2="1075.3" stroke="#4a4a4a" stroke-width="1.7" />
<line x1="1015.3" y1="1119.6" x2="1168.0" y2="1075.3" stroke="#1e1e1e" stroke-width="1.55" />
<line x1="1168.0" y1="1075.3" x2="1190.2" y2="1093.0" stroke="#1e1e1e" stroke-width="1.55" />
<line x1="1170.0" y1="1021.0" x2="1239.0" y2="1078.6" stroke="#1e1e1e" stroke-width="1.55" />
<line x1="1168.0" y1="1025.5" x2="1234.5" y2="1080.8" stroke="#1e1e1e" stroke-width="1.55" />
<line x1="1051.8" y1="1134.0" x2="1279.7" y2="1069.7" stroke="#1e1e1e" stroke-width="1.8" />
<line x1="1054.0" y1="1136.0" x2="1281.0" y2="1071.6" stroke="#888" stroke-width="1.0" />
<line x1="1056.3" y1="1138.0" x2="1282.2" y2="1073.5" stroke="#1e1e1e" stroke-width="1.8" />
<line x1="1051.8" y1="1134.0" x2="1056.3" y2="1138.0" stroke="#1e1e1e" stroke-width="1.55" />
<line x1="1279.7" y1="1069.7" x2="1282.2" y2="1073.5" stroke="#1e1e1e" stroke-width="1.55" />
<line x1="1051.8" y1="1134.0" x2="1051.8" y2="1234.7" stroke="#4a4a4a" stroke-width="1.7" />
<line x1="1056.3" y1="1138.0" x2="1056.3" y2="1234.7" stroke="#4a4a4a" stroke-width="1.7" />
<line x1="1051.8" y1="1234.7" x2="1056.3" y2="1234.7" stroke="#1e1e1e" stroke-width="1.55" />
<line x1="1056.3" y1="1234.7" x2="1282.2" y2="1172.0" stroke="#1e1e1e" stroke-width="1.55" />
<line x1="1282.2" y1="1073.5" x2="1282.2" y2="1172.0" stroke="#4a4a4a" stroke-width="1.7" />
<circle cx="960" cy="1097.4" r="1.3" fill="#1e1e1e"/>
<circle cx="960" cy="1126.2" r="1.3" fill="#1e1e1e"/>
<line x1="1027.0" y1="968.6" x2="972.2" y2="984.8" stroke="#1e1e1e" stroke-width="1.55" />
<path d="M972.2,984.8 L980.0,978.7 L982.0,985.6Z" fill="#1e1e1e"/>
<line x1="969.7" y1="983.5" x2="969.7" y2="1044.7" stroke="#4a4a4a" stroke-width="1.7" />
<text transform="translate(1035.80,963.35) scale(1.002,1)" font-size="24.79" fill="#222" font-weight="normal" >349mm</text>
<line x1="1127.4" y1="939.4" x2="1167.3" y2="927.5" stroke="#1e1e1e" stroke-width="1.55" />
<path d="M1167.3,927.5 L1159.5,933.6 L1157.5,926.7Z" fill="#1e1e1e"/>
<line x1="1168.6" y1="927.5" x2="1168.6" y2="987.4" stroke="#4a4a4a" stroke-width="1.7" />
<line x1="1169.5" y1="928.5" x2="1198.5" y2="953.7" stroke="#1e1e1e" stroke-width="1.55" />
<path d="M1169.5,928.5 L1178.8,931.8 L1174.1,937.3Z" fill="#1e1e1e"/>
<text transform="translate(1178.60,979.74) scale(0.932,1)" font-size="26.48" fill="#222" font-weight="normal" >288mm</text>
<line x1="1239.7" y1="988.6" x2="1263.5" y2="1008.6" stroke="#1e1e1e" stroke-width="1.55" />
<path d="M1263.5,1008.6 L1254.1,1005.4 L1258.8,999.9Z" fill="#1e1e1e"/>
<line x1="1263.5" y1="1008.6" x2="1263.5" y2="1069.7" stroke="#4a4a4a" stroke-width="1.7" />
<path d="M1080.8,1048.5 L1084.4,1057.7 L1077.2,1057.7Z" fill="#1e1e1e"/>
<line x1="1080.8" y1="1048.5" x2="1080.8" y2="1062.0" stroke="#4a4a4a" stroke-width="1.7" />
<text transform="translate(1047.20,1080.77) scale(1.061,1)" font-size="22.96" fill="#222" font-weight="normal" >86mm</text>
<path d="M1081.2,1098.5 L1077.6,1089.3 L1084.8,1089.3Z" fill="#1e1e1e"/>
<line x1="1081.2" y1="1085.0" x2="1081.2" y2="1098.5" stroke="#4a4a4a" stroke-width="1.7" />
<line x1="1322.0" y1="1107.2" x2="1322.0" y2="1139.6" stroke="#4a4a4a" stroke-width="1.7" />
<line x1="1322.0" y1="1177.0" x2="1322.0" y2="1203.3" stroke="#4a4a4a" stroke-width="1.7" />
<path d="M1322.0,1107.2 L1325.6,1116.4 L1318.4,1116.4Z" fill="#1e1e1e"/>
<path d="M1322.0,1203.3 L1318.4,1194.1 L1325.6,1194.1Z" fill="#1e1e1e"/>
<text transform="translate(1283.50,1166.77) scale(1.078,1)" font-size="22.54" fill="#222" font-weight="normal" >173mm</text>
<line x1="1282.2" y1="1073.5" x2="1303.4" y2="1091.0" stroke="#1e1e1e" stroke-width="1.55" />
<line x1="1314.6" y1="1099.7" x2="1322.0" y2="1106.0" stroke="#1e1e1e" stroke-width="1.55" />
<line x1="1282.2" y1="1172.0" x2="1319.6" y2="1203.3" stroke="#1e1e1e" stroke-width="1.55" />
<line x1="1059.6" y1="1238.0" x2="1098.3" y2="1270.2" stroke="#1e1e1e" stroke-width="1.55" />
<line x1="1098.3" y1="1270.2" x2="1167.0" y2="1251.3" stroke="#1e1e1e" stroke-width="1.55" />
<path d="M1098.3,1270.2 L1106.2,1264.3 L1108.1,1271.2Z" fill="#1e1e1e"/>
<text transform="translate(1175.80,1244.45) scale(1.001,1)" font-size="24.93" fill="#222" font-weight="normal" >394mm</text>
<line x1="1274.7" y1="1220.0" x2="1319.6" y2="1203.3" stroke="#1e1e1e" stroke-width="1.55" />
<path d="M1319.6,1203.3 L1312.2,1209.9 L1309.7,1203.1Z" fill="#1e1e1e"/>
</svg></body></html>
